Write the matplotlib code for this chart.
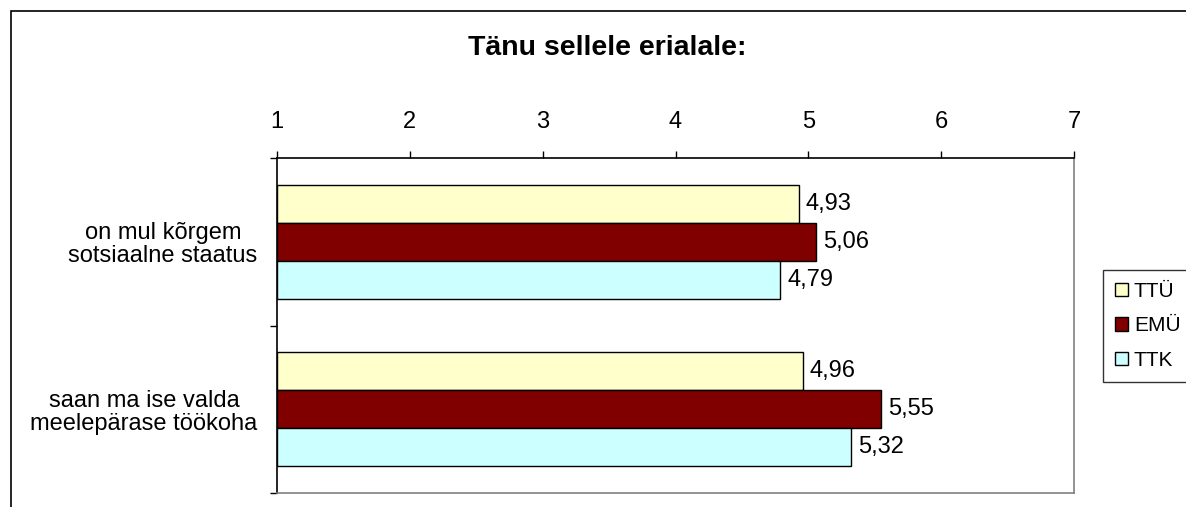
import matplotlib.pyplot as plt
import numpy as np
from matplotlib.patches import Rectangle

plt.rcParams['font.family'] = ['Liberation Sans', 'DejaVu Sans']

categories = ["on mul kõrgem\nsotsiaalne staatus", "saan ma ise valda\nmeelepärase töökoha"]
series = ["TTÜ", "EMÜ", "TTK"]
values = {
    "TTÜ": [4.93, 4.96],
    "EMÜ": [5.06, 5.55],
    "TTK": [4.79, 5.32],
}
colors = {"TTÜ": "#FFFFCC", "EMÜ": "#800000", "TTK": "#CCFFFF"}
xticks = [1, 2, 3, 4, 5, 6, 7]

W, H = 1186, 507
fig = plt.figure(figsize=(W / 100, H / 100), dpi=100)
fig.patch.set_facecolor('white')

# outer chart frame (only left and top edges are visible)
fig.add_artist(Rectangle((10.5 / W, -0.1), 2, 496.5 / H + 0.1, transform=fig.transFigure,
                         fill=False, ec='black', lw=1.2))

ax = fig.add_axes([277 / W, 1 - 493 / H, (1074 - 277) / W, (493 - 158) / H])

bar_h = 0.227
centers = np.arange(len(categories)) + 0.5
for i, s in enumerate(series):
    v = np.array(values[s])
    bars = ax.barh(centers + (i - 1) * bar_h, v - 1, left=1, height=bar_h,
                   color=colors[s], edgecolor='black', linewidth=1, label=s)
    ax.bar_label(bars, labels=[f"{x:.2f}".replace('.', ',') for x in v],
                 padding=5, fontsize=17)

ax.set_xlim(1, 7)
ax.set_ylim(2, 0)
ax.xaxis.tick_top()
ax.set_xticks(xticks)
ax.tick_params(axis='x', direction='out', length=5, width=1, pad=13, labelsize=17)
ax.set_yticks(centers)
ax.set_yticklabels(categories)
ax.set_yticks([0, 1, 2], minor=True)
ax.tick_params(axis='y', which='major', length=0, pad=14, labelsize=17)
ax.tick_params(axis='y', which='minor', direction='out', length=5, width=1)
for lab in ax.get_yticklabels():
    lab.set_multialignment('center')
    lab.set_linespacing(1.05)

ax.spines['top'].set_color('black')
ax.spines['left'].set_color('black')
ax.spines['right'].set_color('#808080')
ax.spines['bottom'].set_color('#808080')
for sp in ax.spines.values():
    sp.set_linewidth(1.2)

fig.text(607 / W, 1 - 48 / H, "Tänu sellele erialale:", ha='center', va='center',
         fontsize=20.5, fontweight='bold')

leg = fig.legend(loc='upper left', bbox_to_anchor=(1103 / W, 1 - 270 / H),
                 fontsize=15, frameon=True, fancybox=False, edgecolor='black',
                 handlelength=0.6, handleheight=0.6, handletextpad=0.3,
                 labelspacing=0.73, borderpad=0.58, borderaxespad=0)
leg.get_frame().set_linewidth(1)

fig.savefig("out.png", dpi=100, facecolor='white')
